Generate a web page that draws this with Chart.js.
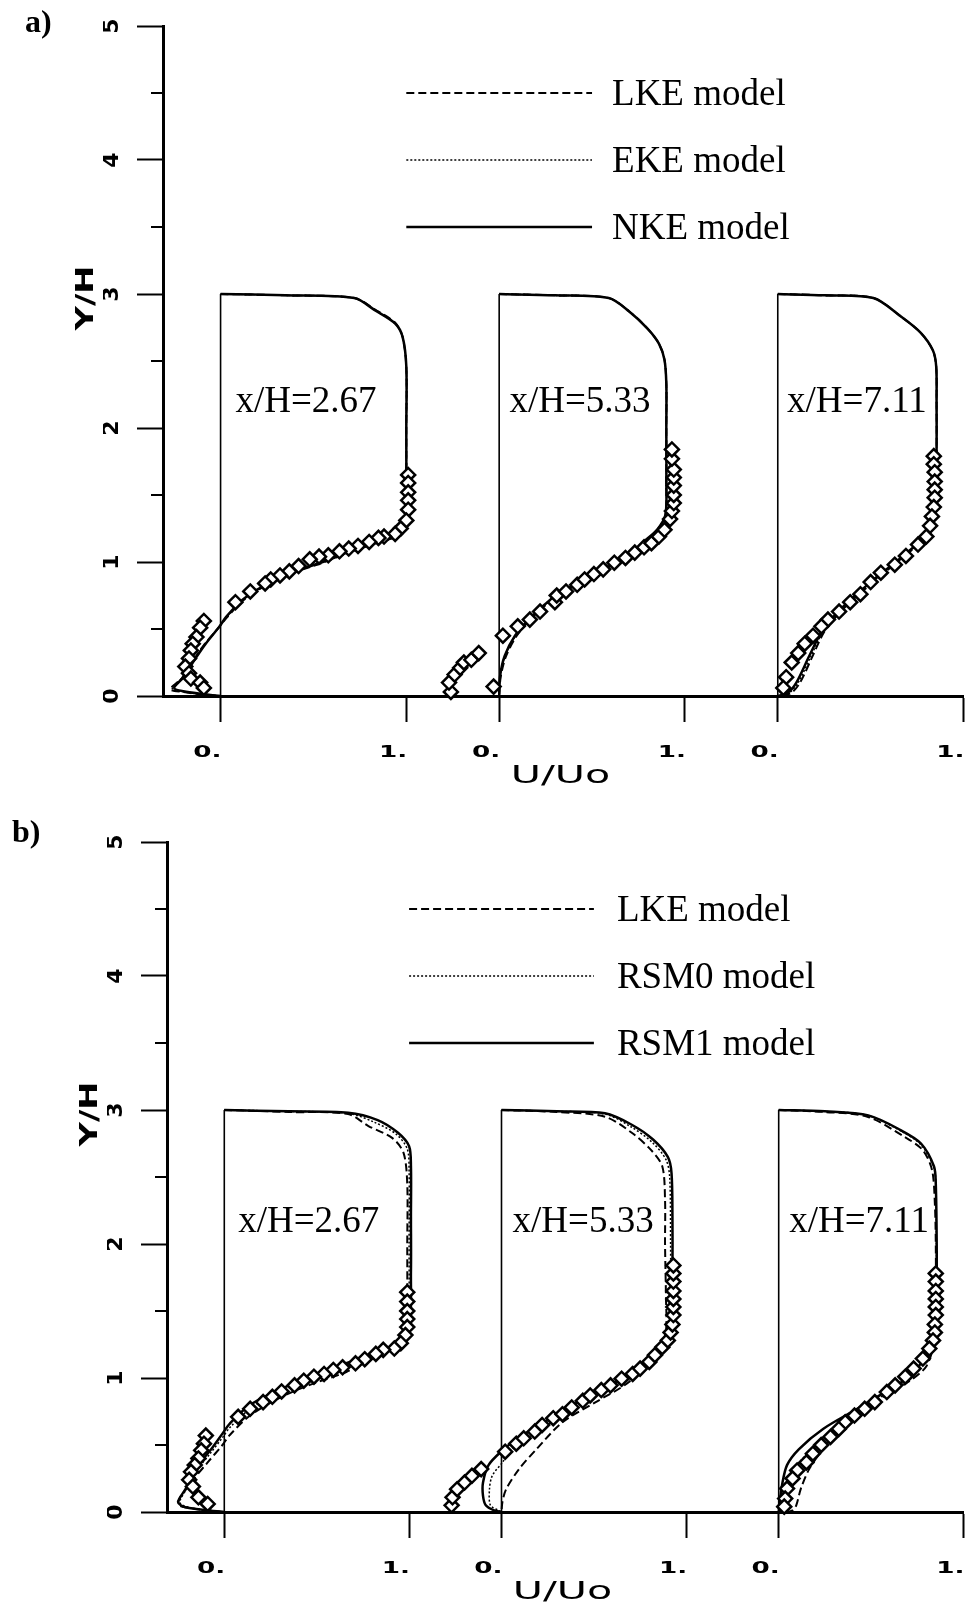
<!DOCTYPE html>
<html>
<head>
<meta charset="utf-8">
<script src="https://cdn.jsdelivr.net/npm/chart.js@4.4.1/dist/chart.umd.min.js"></script>
<style>
  body { margin: 0; background: #fff; }
  #wrap { position: relative; width: 973px; height: 1611px; }
  canvas { position: absolute; left: 0; }
</style>
</head>
<body>
<div id="wrap">
  <canvas id="panelA" width="973" height="805" style="top:0"></canvas>
  <canvas id="panelB" width="973" height="806" style="top:805px"></canvas>
</div>
<script>
// stations and axes
const stationNames = ["x/H=2.67", "x/H=5.33", "x/H=7.11"];
const stationShift = [0, 1.5, 3.0];
const uTicks = [0, 1];
const uTickLabels = ["0.", "1."];
const yTicks = [0, 1, 2, 3, 4, 5];
const yMinorTicks = [0.5, 1.5, 2.5, 3.5, 4.5];
const zeroLineY = [0, 3];
const modelsA = ["LKE model", "EKE model", "NKE model"];
const modelsB = ["LKE model", "RSM0 model", "RSM1 model"];

// a) x/H=2.67  [U/Uo, y/H]
const expA1 = [[1.01,1.65],[1.01,1.59],[1.01,1.52],[1.01,1.46],[1.01,1.39],[1.0,1.31],[0.97,1.25],[0.94,1.21],[0.88,1.19],[0.85,1.18],[0.80,1.15],[0.74,1.12],[0.69,1.10],[0.64,1.08],[0.58,1.05],[0.53,1.04],[0.48,1.02],[0.42,0.97],[0.37,0.93],[0.32,0.90],[0.27,0.87],[0.24,0.84],[0.16,0.78],[0.08,0.70],[-0.09,0.56],[-0.11,0.51],[-0.13,0.44],[-0.15,0.39],[-0.16,0.34],[-0.17,0.28],[-0.19,0.22],[-0.17,0.17],[-0.16,0.13],[-0.11,0.10],[-0.09,0.06]];
const lkeA1 = [[0,3],[0.35,2.99],[0.72,2.97],[0.83,2.885],[0.94,2.785],[0.98,2.68],[1.0,2.45],[1.0,2.0],[1.0,1.6],[0.995,1.34],[0.955,1.2],[0.865,1.155],[0.72,1.085],[0.55,0.995],[0.37,0.91],[0.23,0.815],[0.12,0.71],[0.03,0.58],[-0.01,0.51],[-0.09,0.38],[-0.15,0.26],[-0.21,0.13],[-0.27,0.05],[-0.2,0.03],[-0.1,0.012],[0,0]];
const ekeA1 = [[0,3],[0.35,2.99],[0.72,2.97],[0.83,2.88],[0.94,2.78],[0.98,2.68],[1.0,2.46],[1.0,2.0],[1.0,1.6],[0.997,1.34],[0.96,1.2],[0.87,1.16],[0.72,1.09],[0.55,1.0],[0.37,0.915],[0.23,0.82],[0.12,0.715],[0.03,0.585],[-0.008,0.515],[-0.085,0.385],[-0.145,0.265],[-0.205,0.14],[-0.26,0.055],[-0.2,0.032],[-0.1,0.014],[0,0]];
const nkeA1 = [[0,3],[0.35,2.99],[0.72,2.97],[0.83,2.88],[0.94,2.78],[0.98,2.68],[1.0,2.46],[1.0,2.0],[1.0,1.6],[0.997,1.34],[0.96,1.2],[0.87,1.16],[0.72,1.09],[0.55,1.0],[0.37,0.915],[0.23,0.82],[0.12,0.72],[0.03,0.59],[-0.005,0.52],[-0.08,0.39],[-0.14,0.27],[-0.2,0.14],[-0.25,0.06],[-0.2,0.035],[-0.1,0.015],[0,0]];

// a) x/H=5.33
const expA2 = [[-0.26,0.03],[-0.27,0.10],[-0.24,0.16],[-0.21,0.21],[-0.19,0.25],[-0.15,0.27],[-0.11,0.32],[-0.03,0.07],[0.02,0.45],[0.10,0.52],[0.165,0.57],[0.22,0.63],[0.30,0.70],[0.31,0.75],[0.36,0.78],[0.42,0.83],[0.46,0.87],[0.51,0.91],[0.56,0.945],[0.62,0.995],[0.68,1.03],[0.73,1.07],[0.78,1.11],[0.82,1.14],[0.86,1.19],[0.89,1.24],[0.92,1.32],[0.93,1.38],[0.94,1.44],[0.94,1.50],[0.94,1.57],[0.94,1.63],[0.94,1.69],[0.93,1.77],[0.93,1.84]];
const lkeA2 = [[0,3],[0.3,2.99],[0.59,2.97],[0.70,2.87],[0.80,2.74],[0.86,2.63],[0.89,2.51],[0.9,2.33],[0.9,2.0],[0.9,1.6],[0.895,1.35],[0.85,1.235],[0.785,1.15],[0.68,1.02],[0.53,0.92],[0.39,0.81],[0.26,0.69],[0.16,0.56],[0.09,0.44],[0.035,0.29],[0.008,0.14],[0,0]];
const ekeA2 = [[0,3],[0.3,2.99],[0.59,2.97],[0.70,2.87],[0.80,2.74],[0.86,2.63],[0.89,2.51],[0.9,2.33],[0.9,2.0],[0.9,1.6],[0.895,1.35],[0.85,1.24],[0.785,1.155],[0.68,1.025],[0.53,0.925],[0.39,0.815],[0.26,0.695],[0.16,0.565],[0.087,0.445],[0.032,0.295],[0.006,0.145],[0,0]];
const nkeA2 = [[0,3],[0.3,2.99],[0.59,2.97],[0.70,2.87],[0.80,2.74],[0.86,2.63],[0.89,2.51],[0.9,2.33],[0.9,2.0],[0.9,1.6],[0.895,1.35],[0.85,1.24],[0.785,1.16],[0.68,1.03],[0.53,0.93],[0.39,0.82],[0.26,0.70],[0.16,0.57],[0.085,0.45],[0.03,0.30],[0.005,0.15],[0,0]];

// a) x/H=7.11
const expA3 = [[0.84,1.79],[0.84,1.73],[0.845,1.67],[0.845,1.60],[0.845,1.54],[0.845,1.48],[0.84,1.41],[0.83,1.34],[0.82,1.27],[0.80,1.19],[0.755,1.13],[0.69,1.045],[0.63,0.98],[0.555,0.92],[0.50,0.85],[0.445,0.76],[0.39,0.70],[0.33,0.63],[0.27,0.57],[0.235,0.52],[0.19,0.45],[0.145,0.39],[0.11,0.32],[0.075,0.25],[0.045,0.14],[0.03,0.06]];
const lkeA3 = [[0,3],[0.25,2.99],[0.515,2.97],[0.665,2.83],[0.77,2.71],[0.835,2.58],[0.853,2.46],[0.855,2.2],[0.855,1.8],[0.85,1.4],[0.82,1.235],[0.755,1.13],[0.63,0.985],[0.5,0.835],[0.36,0.66],[0.255,0.49],[0.185,0.29],[0.12,0.1],[0.07,0.02],[0,0]];
const ekeA3 = [[0,3],[0.25,2.99],[0.515,2.97],[0.665,2.83],[0.77,2.71],[0.835,2.58],[0.853,2.46],[0.855,2.2],[0.855,1.8],[0.85,1.4],[0.82,1.24],[0.755,1.135],[0.63,0.99],[0.5,0.84],[0.357,0.665],[0.25,0.495],[0.178,0.295],[0.11,0.1],[0.06,0.022],[0,0]];
const nkeA3 = [[0,3],[0.25,2.99],[0.515,2.97],[0.665,2.83],[0.77,2.71],[0.835,2.58],[0.853,2.46],[0.855,2.2],[0.855,1.8],[0.85,1.4],[0.82,1.24],[0.755,1.14],[0.63,0.995],[0.5,0.85],[0.355,0.67],[0.245,0.50],[0.17,0.30],[0.10,0.10],[0.055,0.025],[0,0]];

// b) x/H=2.67
const expB1 = [[0.99,1.64],[0.99,1.57],[0.99,1.50],[0.99,1.44],[0.99,1.38],[0.98,1.32],[0.955,1.26],[0.92,1.22],[0.86,1.21],[0.82,1.18],[0.76,1.14],[0.71,1.11],[0.64,1.08],[0.59,1.06],[0.54,1.03],[0.485,1.01],[0.43,0.98],[0.38,0.945],[0.31,0.90],[0.26,0.86],[0.21,0.82],[0.14,0.77],[0.075,0.71],[-0.10,0.57],[-0.11,0.51],[-0.125,0.46],[-0.14,0.40],[-0.16,0.35],[-0.18,0.30],[-0.19,0.24],[-0.17,0.19],[-0.14,0.11],[-0.09,0.06]];
const lkeB1 = [[0,3],[0.35,2.985],[0.67,2.97],[0.78,2.88],[0.91,2.79],[0.97,2.68],[0.99,2.45],[0.99,2.0],[0.99,1.6],[0.985,1.34],[0.95,1.24],[0.84,1.17],[0.66,1.045],[0.485,0.96],[0.31,0.86],[0.14,0.72],[0.03,0.575],[-0.01,0.50],[-0.09,0.37],[-0.18,0.22],[-0.25,0.06],[-0.16,0.025],[0,0]];
const rsm0B1 = [[0,3],[0.35,2.99],[0.67,2.975],[0.81,2.91],[0.93,2.82],[0.99,2.71],[1.0,2.55],[1.0,2.0],[1.0,1.6],[0.995,1.34],[0.94,1.23],[0.83,1.175],[0.66,1.09],[0.485,1.0],[0.31,0.90],[0.14,0.77],[0.03,0.63],[-0.01,0.555],[-0.08,0.43],[-0.15,0.31],[-0.21,0.16],[-0.24,0.07],[-0.18,0.03],[0,0]];
const rsm1B1 = [[0,3],[0.35,2.99],[0.67,2.98],[0.83,2.925],[0.94,2.83],[1.0,2.73],[1.01,2.58],[1.01,2.2],[1.01,1.8],[1.0,1.34],[0.94,1.24],[0.83,1.19],[0.66,1.11],[0.485,1.02],[0.31,0.92],[0.14,0.80],[0.03,0.66],[-0.01,0.585],[-0.07,0.47],[-0.14,0.35],[-0.21,0.17],[-0.25,0.075],[-0.21,0.035],[-0.04,0.005],[0,0]];

// b) x/H=5.33
const expB2 = [[-0.27,0.05],[-0.265,0.11],[-0.24,0.17],[-0.20,0.22],[-0.16,0.27],[-0.11,0.32],[0.02,0.45],[0.08,0.51],[0.12,0.55],[0.18,0.60],[0.22,0.65],[0.28,0.70],[0.33,0.73],[0.38,0.78],[0.44,0.83],[0.48,0.87],[0.54,0.91],[0.59,0.945],[0.65,0.995],[0.71,1.03],[0.75,1.07],[0.80,1.12],[0.83,1.17],[0.87,1.23],[0.90,1.28],[0.915,1.34],[0.925,1.40],[0.93,1.47],[0.93,1.53],[0.93,1.59],[0.93,1.65],[0.93,1.72],[0.93,1.78],[0.93,1.84]];
const lkeB2 = [[0,3],[0.3,2.985],[0.56,2.95],[0.705,2.83],[0.81,2.70],[0.87,2.58],[0.885,2.33],[0.885,2.0],[0.89,1.6],[0.89,1.35],[0.86,1.24],[0.80,1.13],[0.69,0.97],[0.51,0.82],[0.33,0.67],[0.19,0.47],[0.095,0.32],[0.025,0.17],[0.005,0.075],[0,0]];
const rsm0B2 = [[0,3],[0.3,2.99],[0.56,2.97],[0.70,2.875],[0.815,2.76],[0.89,2.63],[0.91,2.5],[0.915,2.0],[0.915,1.6],[0.91,1.38],[0.90,1.27],[0.83,1.15],[0.69,1.0],[0.51,0.87],[0.33,0.72],[0.17,0.58],[0.06,0.47],[0.005,0.37],[-0.05,0.27],[-0.065,0.17],[-0.06,0.05],[-0.015,0.012],[0,0]];
const rsm1B2 = [[0,3],[0.3,2.99],[0.56,2.975],[0.705,2.89],[0.82,2.78],[0.90,2.65],[0.92,2.53],[0.925,2.2],[0.925,1.8],[0.92,1.4],[0.915,1.29],[0.835,1.17],[0.69,1.02],[0.51,0.90],[0.33,0.75],[0.17,0.62],[0.06,0.52],[0.005,0.46],[-0.07,0.35],[-0.10,0.22],[-0.10,0.12],[-0.085,0.05],[-0.04,0.012],[0,0]];

// b) x/H=7.11
const expB3 = [[0.85,1.78],[0.85,1.72],[0.85,1.65],[0.85,1.59],[0.85,1.53],[0.85,1.47],[0.845,1.40],[0.845,1.34],[0.835,1.28],[0.815,1.22],[0.78,1.145],[0.73,1.07],[0.685,1.01],[0.63,0.945],[0.585,0.895],[0.52,0.82],[0.465,0.77],[0.41,0.72],[0.36,0.67],[0.325,0.62],[0.28,0.56],[0.23,0.50],[0.185,0.435],[0.15,0.37],[0.10,0.31],[0.075,0.25],[0.045,0.175],[0.035,0.10],[0.03,0.04]];
const lkeB3 = [[0,3],[0.25,2.985],[0.48,2.95],[0.68,2.80],[0.78,2.70],[0.83,2.55],[0.845,2.3],[0.85,2.0],[0.85,1.6],[0.845,1.3],[0.80,1.09],[0.70,0.97],[0.52,0.82],[0.33,0.62],[0.24,0.47],[0.165,0.32],[0.12,0.175],[0.095,0.05],[0.075,0.012],[0.05,0]];
const rsm0B3 = [[0,3],[0.25,2.99],[0.48,2.96],[0.665,2.84],[0.77,2.74],[0.84,2.57],[0.85,2.45],[0.853,2.0],[0.853,1.6],[0.85,1.33],[0.80,1.15],[0.705,0.99],[0.56,0.865],[0.41,0.74],[0.26,0.58],[0.15,0.43],[0.08,0.31],[0.045,0.18],[0.02,0.05],[0,0]];
const rsm1B3 = [[0,3],[0.25,2.99],[0.485,2.96],[0.66,2.85],[0.77,2.75],[0.84,2.58],[0.85,2.45],[0.855,2.0],[0.855,1.6],[0.852,1.34],[0.80,1.17],[0.705,1.01],[0.575,0.895],[0.425,0.77],[0.24,0.62],[0.11,0.47],[0.045,0.35],[0.018,0.20],[0.004,0.05],[0,0]];

const lineStyles = [
  { dash: [8, 4], width: 2 },
  { dash: [2, 2], width: 1.5 },
  { dash: [], width: 2.5 }
];
const xTickValues = stationShift.flatMap(s => uTicks.map(u => s + u));

function buildSets(models, exp) {
  const sets = [];
  stationShift.forEach((s, i) => {
    sets.push({
      data: zeroLineY.map(y => ({ x: s, y })),
      showLine: true, borderColor: "#000", borderWidth: 1.6, pointRadius: 0, order: 3
    });
    models.forEach((m, k) => sets.push({
      data: m[i].map(([u, y]) => ({ x: u + s, y })),
      showLine: true, borderColor: "#000", borderWidth: lineStyles[k].width,
      borderDash: lineStyles[k].dash, pointRadius: 0, tension: 0.3, order: 2
    }));
    sets.push({
      data: exp[i].map(([u, y]) => ({ x: u + s, y })),
      pointStyle: "rectRot", pointRadius: 7, pointBorderWidth: 2.5,
      pointBackgroundColor: "#fff", pointBorderColor: "#000", clip: false, order: 1
    });
  });
  return sets;
}

function stretchText(ctx, s, px, py, k, rot) {
  ctx.save();
  ctx.translate(px, py);
  if (rot) ctx.rotate(rot);
  ctx.scale(k, 1);
  ctx.fillText(s, 0, 0);
  ctx.restore();
}

const decorPlugin = {
  id: "decor",
  afterDraw(chart, args, o) {
    const { ctx, chartArea: ca, scales: { x, y } } = chart;
    ctx.save();
    ctx.fillStyle = "#000";
    ctx.strokeStyle = "#000";

    // minor ticks on y
    ctx.lineWidth = 2;
    yMinorTicks.forEach(v => {
      const py = y.getPixelForValue(v);
      ctx.beginPath();
      ctx.moveTo(ca.left - 12, py);
      ctx.lineTo(ca.left, py);
      ctx.stroke();
    });

    // x tick labels and axis titles
    ctx.font = 'bold 15px "DejaVu Sans"';
    ctx.textAlign = "right";
    ctx.textBaseline = "alphabetic";
    x.ticks.forEach((t, i) => stretchText(ctx, uTickLabels[i % uTicks.length], x.getPixelForValue(t.value) + 1, ca.bottom + 61, 1.75));
    ctx.font = '25px "DejaVu Sans"';
    ctx.textAlign = "center";
    stretchText(ctx, "U/Uo", x.getPixelForValue(1.83), ca.bottom + 87, 1.65);
    ctx.font = 'bold 24px "DejaVu Sans"';
    ctx.textBaseline = "middle";
    stretchText(ctx, "Y/H", ca.left - 76, y.getPixelForValue(2.97), 1.4, -Math.PI / 2);

    // station labels
    ctx.font = '37px "Liberation Serif"';
    ctx.textAlign = "left";
    ctx.textBaseline = "alphabetic";
    stationNames.forEach((n, i) => {
      ctx.fillText(n, x.getPixelForValue(stationShift[i] + o.labelDx[i]), y.getPixelForValue(o.labelY));
    });

    // legend
    o.models.forEach((m, k) => {
      const py = y.getPixelForValue(4.5 - 0.5 * k);
      const x0 = x.getPixelForValue(1), x1 = x.getPixelForValue(2);
      ctx.setLineDash(lineStyles[k].dash);
      ctx.lineWidth = lineStyles[k].width;
      ctx.beginPath();
      ctx.moveTo(x0, py);
      ctx.lineTo(x1, py);
      ctx.stroke();
      ctx.setLineDash([]);
      ctx.fillText(m, x1 + o.legendGap, py + 12);
    });

    // panel letter
    ctx.font = 'bold 32px "Liberation Serif"';
    ctx.fillText(o.letter, o.letterX, o.letterY);
    ctx.restore();
  }
};

function makeChart(id, sets, pad, decor) {
  return new Chart(document.getElementById(id), {
    type: "scatter",
    data: { datasets: sets },
    options: {
      responsive: false,
      animation: false,
      devicePixelRatio: 1,
      layout: { padding: pad },
      plugins: { legend: { display: false }, tooltip: { enabled: false }, decor },
      scales: {
        x: {
          type: "linear", min: -0.31, max: 4.0,
          afterBuildTicks: s => { s.ticks = xTickValues.map(v => ({ value: v })); },
          afterFit: s => { s.height = 60; },
          ticks: { display: false },
          grid: { drawOnChartArea: false, tickLength: 26, tickWidth: 2, tickColor: "#000" },
          border: { display: true, width: 3, color: "#000" }
        },
        y: {
          type: "linear", min: 0, max: 5,
          afterBuildTicks: s => { s.ticks = yTicks.map(v => ({ value: v })); },
          afterFit: s => { s.width = 60; s.paddingTop = 0; s.paddingBottom = 0; },
          ticks: {
            minRotation: 90, maxRotation: 90, crossAlign: "center", padding: 17,
            color: "#000", font: { family: "DejaVu Sans", size: 22, weight: "bold" },
            callback: v => String(v)
          },
          grid: { drawOnChartArea: false, tickLength: 26, tickWidth: 2, tickColor: "#000" },
          border: { display: true, width: 3, color: "#000" }
        }
      }
    },
    plugins: [decorPlugin]
  });
}

makeChart("panelA",
  buildSets([[lkeA1, lkeA2, lkeA3], [ekeA1, ekeA2, ekeA3], [nkeA1, nkeA2, nkeA3]], [expA1, expA2, expA3]),
  { top: 26, left: 103, right: 2, bottom: 49 },
  { models: modelsA, letter: "a)", letterX: 25, letterY: 32, labelY: 2.12, labelDx: [0.08, 0.055, 0.05], legendGap: 20 });

makeChart("panelB",
  buildSets([[lkeB1, lkeB2, lkeB3], [rsm0B1, rsm0B2, rsm0B3], [rsm1B1, rsm1B2, rsm1B3]], [expB1, expB2, expB3]),
  { top: 37, left: 107, right: 2, bottom: 39 },
  { models: modelsB, letter: "b)", letterX: 12, letterY: 37, labelY: 2.09, labelDx: [0.075, 0.06, 0.057], legendGap: 23 });
</script>
</body>
</html>
